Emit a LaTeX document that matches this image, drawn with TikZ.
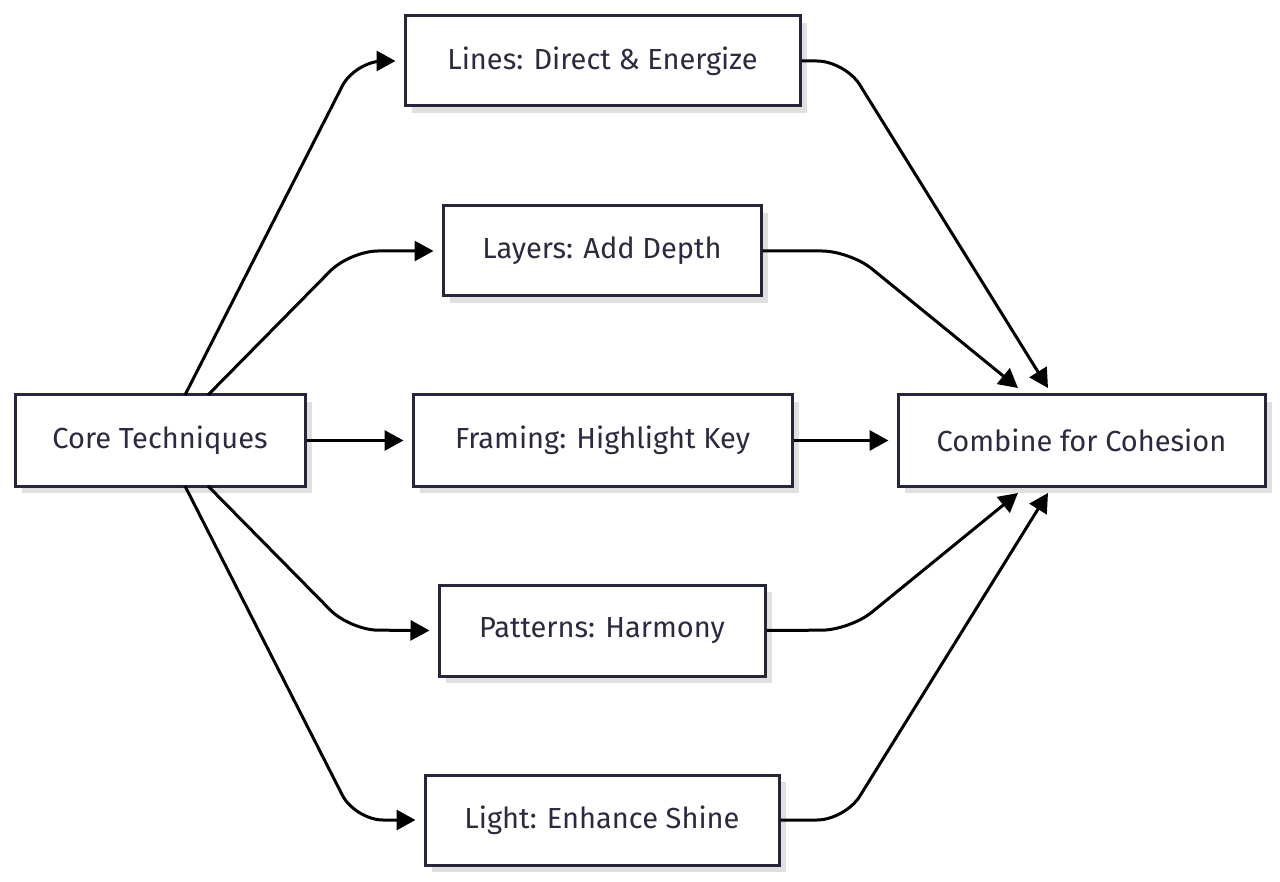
\documentclass[tikz,border=0pt]{standalone}
\usepackage{fontspec}
\setmainfont{Fira Sans}
\usetikzlibrary{arrows.meta}
\definecolor{ink}{HTML}{2A2A40}
\begin{document}
\begin{tikzpicture}[x=1pt,y=-1pt,
  box/.style={draw=ink!90!black,line width=3pt,fill=white,inner sep=0pt,
    font=\fontsize{29}{34}\selectfont,text=ink,
    preaction={fill=black!12,transform canvas={xshift=7pt,yshift=-7pt}}},
  con/.style={line width=3pt,rounded corners=28pt,-{Triangle[length=19pt,width=20pt]}}]
\useasboundingbox (0,0) rectangle (1280,882);
\node[box,minimum width=290pt,minimum height=91pt] (core) at (160,440.5) {Core Techniques};
\node[box,minimum width=395pt,minimum height=90pt] (lines) at (602.5,61) {Lines: Direct \& Energize};
\node[box,minimum width=318pt,minimum height=90pt] (layers) at (602,251) {Layers: Add Depth};
\node[box,minimum width=379pt,minimum height=91pt] (framing) at (602.5,440.5) {Framing: Highlight Key};
\node[box,minimum width=326pt,minimum height=91pt] (patterns) at (602,630.5) {Patterns: Harmony};
\node[box,minimum width=354pt,minimum height=90pt] (light) at (602,820) {Light: Enhance Shine};
\node[box,minimum width=367pt,minimum height=91pt] (comb) at (1081.5,440.5) {Combine for Cohesion};
\coordinate (c1) at (185,395);
\coordinate (c2) at (208,395);
\coordinate (c4) at (208,486);
\coordinate (c5) at (185,486);
\draw[con] (c1) -- (355,61) -- ([xshift=-8pt]lines.west);
\draw[con] (c2) -- (350,251) -- ([xshift=-8pt]layers.west);
\draw[con] (core.east) -- ([xshift=-8pt]framing.west);
\draw[con] (c4) -- (350,630) -- ([xshift=-8pt]patterns.west);
\draw[con] (c5) -- (355,820) -- ([xshift=-8pt]light.west);
\coordinate (t1) at (1048,388);
\coordinate (t2) at (1018,388);
\coordinate (t4) at (1018,493);
\coordinate (t5) at (1048,493);
\draw[con] (lines.east) -- (845,61) -- (t1);
\draw[con] (layers.east) -- (850,251) -- (t2);
\draw[con] (framing.east) -- ([xshift=-8pt]comb.west);
\draw[con] (patterns.east) -- (850,630) -- (t4);
\draw[con] (light.east) -- (845,820) -- (t5);
\end{tikzpicture}
\end{document}
